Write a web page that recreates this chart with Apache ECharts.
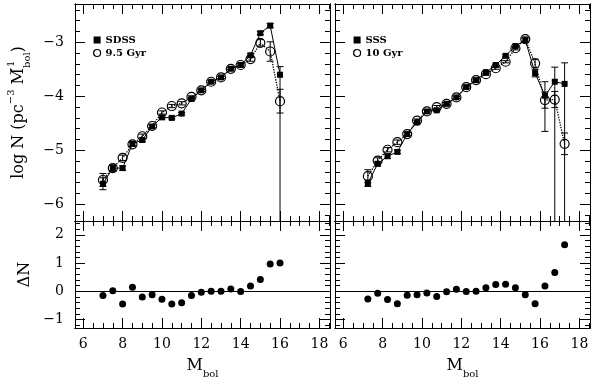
<!DOCTYPE html>
<html>
<head>
<meta charset="utf-8">
<script src="https://cdn.jsdelivr.net/npm/echarts@6/dist/echarts.min.js"></script>
<style>
html, body { margin: 0; padding: 0; background: #fff; }
#main { width: 600px; height: 378px; }
</style>
</head>
<body>
<div id="main"></div>
<script>
// magnitudes (bin centres)
var magLeft = [7.0, 7.5, 8.0, 8.5, 9.0, 9.5, 10.0, 10.5, 11.0, 11.5, 12.0, 12.5, 13.0, 13.5, 14.0, 14.5, 15.0, 15.5, 16.0];
var magRight = [7.25, 7.75, 8.25, 8.75, 9.25, 9.75, 10.25, 10.75, 11.25, 11.75, 12.25, 12.75, 13.25, 13.75, 14.25, 14.75, 15.25, 15.75, 16.25, 16.75, 17.25];

// left: SDSS vs 9.5 Gyr model
var sdss = [-5.62, -5.33, -5.33, -4.88, -4.81, -4.56, -4.39, -4.40, -4.32, -4.05, -3.89, -3.73, -3.65, -3.49, -3.42, -3.24, -2.83, -2.69, -3.60];
var sdssErrUp = [0.11, 0.05, 0.04, 0.04, 0.03, 0.03, 0.03, 0.02, 0.02, 0.02, 0.02, 0.02, 0.02, 0.02, 0.02, 0.03, 0.03, 0.04, 0.15];
var sdssErrDn = [0.11, 0.05, 0.04, 0.04, 0.03, 0.03, 0.03, 0.02, 0.02, 0.02, 0.02, 0.02, 0.02, 0.02, 0.02, 0.03, 0.03, 0.04, 5];
var mod95 = [-5.55, -5.33, -5.14, -4.89, -4.74, -4.55, -4.30, -4.18, -4.13, -4.01, -3.89, -3.73, -3.65, -3.49, -3.42, -3.31, -3.01, -3.17, -4.09];
var mod95Err = [0.12, 0.06, 0.05, 0.04, 0.04, 0.03, 0.03, 0.03, 0.03, 0.02, 0.02, 0.02, 0.02, 0.02, 0.03, 0.04, 0.06, 0.18, 0.22];
var dLeft = [-0.15, 0.02, -0.45, 0.14, -0.20, -0.12, -0.28, -0.45, -0.41, -0.15, -0.03, 0.00, 0.00, 0.08, -0.01, 0.19, 0.42, 0.97, 1.00];

// right: SSS vs 10 Gyr model
var sss = [-5.61, -5.25, -5.11, -5.03, -4.70, -4.48, -4.28, -4.26, -4.14, -4.02, -3.83, -3.70, -3.56, -3.42, -3.25, -3.07, -2.96, -3.57, -3.99, -3.73, -3.77];
var sssErrUp = [0.06, 0.04, 0.04, 0.03, 0.03, 0.03, 0.03, 0.02, 0.02, 0.02, 0.02, 0.02, 0.02, 0.02, 0.02, 0.03, 0.04, 0.07, 0.26, 0.27, 0.39];
var sssErrDn = [0.06, 0.04, 0.04, 0.03, 0.03, 0.03, 0.03, 0.02, 0.02, 0.02, 0.02, 0.02, 0.02, 0.02, 0.02, 0.03, 0.04, 0.07, 0.66, 5, 5];
var mod10 = [-5.48, -5.19, -4.99, -4.85, -4.70, -4.45, -4.28, -4.20, -4.14, -4.02, -3.83, -3.70, -3.59, -3.48, -3.36, -3.11, -2.94, -3.39, -4.07, -4.06, -4.88];
var mod10Err = [0.12, 0.05, 0.04, 0.04, 0.03, 0.03, 0.03, 0.03, 0.02, 0.02, 0.02, 0.02, 0.02, 0.02, 0.02, 0.03, 0.04, 0.08, 0.15, 0.15, 0.20];
var dRight = [-0.27, -0.07, -0.29, -0.44, -0.14, -0.12, -0.06, -0.18, -0.02, 0.07, -0.01, 0.00, 0.13, 0.24, 0.25, 0.13, -0.12, -0.44, 0.19, 0.67, 1.65];

// tick labels
var xMajor = [6, 8, 10, 12, 14, 16, 18];
var yTopMajor = [-6, -5, -4, -3];
var yBotMajor = [-1, 0, 1, 2];

var FONT = 'DejaVu Serif';

function steps(a, b, d) {
    var out = [];
    for (var v = a; v <= b + 1e-9; v += d) out.push(+v.toFixed(2));
    return out;
}
var xMinor = steps(6, 18.5, 0.5);
var yTopMinor = steps(-6.2, -2.4, 0.2);
var yBotMinor = steps(-1.2, 2.4, 0.2);

var X_MIN = 5.58, X_MAX = 18.54;

function minusFmt(v) {
    return String(v).replace('-', '\u2212');
}

// 4 axes per side pair: main (labels + major ticks), minor ticks, mirrored major, mirrored minor
function axisSet(dim, grid, min, max, major, minor, showLabel, name, nameOpt) {
    var pos = dim === 'x' ? ['bottom', 'top'] : ['left', 'right'];
    var list = [];
    pos.forEach(function (p, i) {
        [[major, 10], [minor, 5]].forEach(function (t, j) {
            var main = i === 0 && j === 0;
            var ax = {
                type: 'value', gridIndex: grid, position: p, min: min, max: max,
                axisLine: {show: true, onZero: false, lineStyle: {color: '#000', width: 1}},
                axisTick: {show: true, inside: true, length: t[1], customValues: t[0], lineStyle: {color: '#000', width: 1}},
                axisLabel: {
                    show: main && showLabel, customValues: major, formatter: minusFmt,
                    fontFamily: FONT, fontSize: 14, color: '#000', margin: dim === 'x' ? 9 : 11
                },
                splitLine: {show: false}
            };
            if (main && name) {
                ax.name = name;
                for (var k in nameOpt) ax[k] = nameOpt[k];
            }
            list.push(ax);
        });
    });
    return list;
}

var richName = {
    t: {fontFamily: FONT, fontSize: 16, color: '#000', lineHeight: 26, verticalAlign: 'middle'},
    p: {fontFamily: FONT, fontSize: 10, color: '#000', lineHeight: 12, verticalAlign: 'top'},
    q: {fontFamily: FONT, fontSize: 10, color: '#000', lineHeight: 12, verticalAlign: 'top', width: 0, align: 'left'},
    s: {fontFamily: FONT, fontSize: 10, color: '#000', lineHeight: 12, verticalAlign: 'bottom'}
};
var xNameOpt = {nameLocation: 'middle', nameGap: 25, nameTextStyle: {rich: richName}};

var xAxes = [].concat(
    axisSet('x', 0, X_MIN, X_MAX, xMajor, xMinor, false),
    axisSet('x', 1, X_MIN, X_MAX, xMajor, xMinor, true, '{t|M}{s|bol}', xNameOpt),
    axisSet('x', 2, X_MIN, X_MAX, xMajor, xMinor, false),
    axisSet('x', 3, X_MIN, X_MAX, xMajor, xMinor, true, '{t|M}{s|bol}', xNameOpt)
);
var yAxes = [].concat(
    axisSet('y', 0, -6.31, -2.29, yTopMajor, yTopMinor, true,
        '{t|log N (pc}{p|\u22123}{t| M}{q|\u22121}{s|bol}{t|)}',
        {nameLocation: 'middle', nameGap: 43, nameRotate: 90, nameTextStyle: {rich: richName}}),
    axisSet('y', 1, -1.3, 2.49, yBotMajor, yBotMinor, true, 'ΔN',
        {nameLocation: 'middle', nameGap: 42, nameRotate: 90, nameTextStyle: {fontFamily: FONT, fontSize: 16, color: '#000'}}),
    axisSet('y', 2, -6.31, -2.29, yTopMajor, yTopMinor, false),
    axisSet('y', 3, -1.3, 2.49, yBotMajor, yBotMinor, false)
);

function pairs(xs, ys) {
    return xs.map(function (x, i) { return [x, ys[i]]; });
}
function errData(xs, ys, up, dn) {
    return xs.map(function (x, i) { return [x, ys[i], up[i], dn[i]]; });
}

function renderErr(params, api) {
    var x = api.value(0), y = api.value(1);
    var top = api.coord([x, y + api.value(2)]);
    var bot = api.coord([x, y - api.value(3)]);
    var cs = params.coordSys;
    var y1 = Math.max(top[1], cs.y), y2 = Math.min(bot[1], cs.y + cs.height);
    var st = {stroke: '#000', lineWidth: 1};
    var kids = [{type: 'line', shape: {x1: top[0], y1: y1, x2: top[0], y2: y2}, style: st}];
    if (top[1] >= cs.y) kids.push({type: 'line', shape: {x1: top[0] - 3.5, y1: top[1], x2: top[0] + 3.5, y2: top[1]}, style: st});
    if (bot[1] <= cs.y + cs.height) kids.push({type: 'line', shape: {x1: bot[0] - 3.5, y1: bot[1], x2: bot[0] + 3.5, y2: bot[1]}, style: st});
    return {type: 'group', children: kids};
}

function errSeries(g, data) {
    return {type: 'custom', xAxisIndex: 4 * g, yAxisIndex: 4 * g, renderItem: renderErr,
        data: data, encode: {x: 0, y: 1}, silent: true, z: 1};
}
function obsSeries(g, name, data) {
    return {type: 'line', name: name, xAxisIndex: 4 * g, yAxisIndex: 4 * g, data: data,
        symbol: 'rect', symbolSize: 6, itemStyle: {color: '#000'},
        lineStyle: {color: '#000', width: 1}, z: 2};
}
function modSeries(g, name, data) {
    return {type: 'line', name: name, xAxisIndex: 4 * g, yAxisIndex: 4 * g, data: data,
        symbol: 'circle', symbolSize: 9,
        itemStyle: {color: 'rgba(255,255,255,0)', borderColor: '#000', borderWidth: 1.2},
        lineStyle: {color: '#000', width: 1.3, type: 'dotted'}, z: 3};
}
function diffSeries(g, data) {
    return {type: 'scatter', xAxisIndex: 4 * g, yAxisIndex: 4 * g, data: data,
        symbol: 'circle', symbolSize: 7, itemStyle: {color: '#000', opacity: 1},
        markLine: {silent: true, symbol: 'none', label: {show: false},
            lineStyle: {color: '#000', width: 1, type: 'solid'}, data: [{yAxis: 0}]}};
}

function legendFor(left, a, b) {
    return {
        orient: 'vertical', left: left, top: 30, itemWidth: 7, itemHeight: 7, itemGap: 3,
        textStyle: {fontFamily: FONT, fontSize: 10, fontWeight: 'bold', color: '#000'},
        selectedMode: false,
        data: [
            {name: a, icon: 'rect', itemStyle: {color: '#000'}},
            {name: b, icon: 'circle', itemStyle: {color: '#fff', borderColor: '#000', borderWidth: 1.2}}
        ]
    };
}

var chart = echarts.init(document.getElementById('main'));
chart.setOption({
    animation: false,
    backgroundColor: '#fff',
    grid: [
        {left: 75, top: 4, width: 255, height: 217, outerBoundsMode: 'none'},
        {left: 75, top: 221, width: 255, height: 107, outerBoundsMode: 'none'},
        {left: 335, top: 4, width: 255, height: 217, outerBoundsMode: 'none'},
        {left: 335, top: 221, width: 255, height: 107, outerBoundsMode: 'none'}
    ],
    legend: [legendFor(88, 'SDSS', '9.5 Gyr'), legendFor(348, 'SSS', '10 Gyr')],
    xAxis: xAxes,
    yAxis: yAxes,
    series: [
        errSeries(0, errData(magLeft, sdss, sdssErrUp, sdssErrDn)),
        errSeries(0, errData(magLeft, mod95, mod95Err, mod95Err)),
        obsSeries(0, 'SDSS', pairs(magLeft, sdss)),
        modSeries(0, '9.5 Gyr', pairs(magLeft, mod95)),
        diffSeries(1, pairs(magLeft, dLeft)),
        errSeries(2, errData(magRight, sss, sssErrUp, sssErrDn)),
        errSeries(2, errData(magRight, mod10, mod10Err, mod10Err)),
        obsSeries(2, 'SSS', pairs(magRight, sss)),
        modSeries(2, '10 Gyr', pairs(magRight, mod10)),
        diffSeries(3, pairs(magRight, dRight))
    ]
});
</script>
</body>
</html>
